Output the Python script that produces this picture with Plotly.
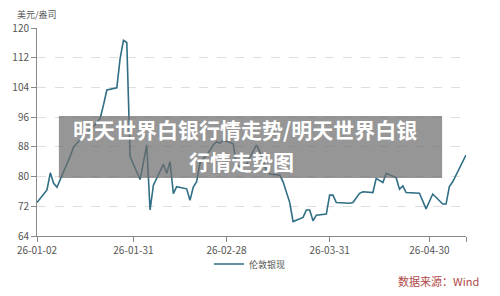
import plotly.graph_objects as go

# ---- data ----
dates = [
    "2026-01-02", "2026-01-05", "2026-01-06", "2026-01-07", "2026-01-08", "2026-01-09",
    "2026-01-12", "2026-01-13", "2026-01-14", "2026-01-15", "2026-01-16", "2026-01-19",
    "2026-01-21", "2026-01-22", "2026-01-23", "2026-01-26", "2026-01-27", "2026-01-28",
    "2026-01-29", "2026-01-30", "2026-02-02", "2026-02-04", "2026-02-05", "2026-02-06",
    "2026-02-09", "2026-02-10", "2026-02-11", "2026-02-12", "2026-02-13", "2026-02-16",
    "2026-02-17", "2026-02-18", "2026-02-19", "2026-02-20", "2026-02-23", "2026-02-24",
    "2026-02-25", "2026-02-26", "2026-02-27", "2026-03-02", "2026-03-03", "2026-03-04",
    "2026-03-05", "2026-03-06", "2026-03-09", "2026-03-10", "2026-03-12", "2026-03-13",
    "2026-03-16", "2026-03-17", "2026-03-19", "2026-03-20", "2026-03-23", "2026-03-24",
    "2026-03-25", "2026-03-26", "2026-03-27", "2026-03-30", "2026-03-31", "2026-04-01",
    "2026-04-02", "2026-04-06", "2026-04-07", "2026-04-09", "2026-04-10", "2026-04-13",
    "2026-04-14", "2026-04-16", "2026-04-17", "2026-04-20", "2026-04-21", "2026-04-22",
    "2026-04-23", "2026-04-27", "2026-04-29", "2026-05-01", "2026-05-04", "2026-05-05",
    "2026-05-06", "2026-05-07", "2026-05-11",
]
silver = [
    73.0, 76.4, 81.0, 78.2, 77.1, 79.1,
    85.5, 88.0, 89.0, 90.0, 91.0, 93.5,
    95.7, 99.3, 103.3, 103.9, 111.8, 116.7,
    116.1, 85.4, 79.2, 88.5, 71.0, 77.7,
    83.3, 80.9, 84.0, 75.4, 77.3, 76.7,
    73.6, 77.2, 78.6, 83.6, 87.0, 88.5,
    89.4, 89.0, 89.8, 88.9, 82.7, 82.7,
    83.1, 83.4, 88.5, 86.7, 81.5, 80.7,
    80.4, 78.6, 73.0, 67.9, 69.0, 71.0,
    71.0, 68.1, 69.6, 69.9, 75.0, 75.0,
    73.0, 72.8, 73.0, 75.5, 75.9, 75.7,
    79.5, 78.4, 80.9, 79.7, 76.6, 77.5,
    75.7, 75.5, 71.3, 75.3, 72.6, 72.6,
    77.3, 78.6, 85.8,
]
series_name = "伦敦银现"
x_tickvals = ["2026-01-02", "2026-01-31", "2026-02-28", "2026-03-31", "2026-04-30", "2026-05-11"]
x_ticktext = ["26-01-02", "26-01-31", "26-02-28", "26-03-31", "26-04-30", ""]
y_tickvals = [64, 72, 80, 88, 96, 104, 112, 120]
y_unit = "美元/盎司"
title_line1 = "明天世界白银行情走势/明天世界白银"
title_line2 = "行情走势图"
source_text = "数据来源：Wind"

# ---- layout geometry ----
W, H = 500, 296
L, R, T, B = 35, 34, 28, 60
PW, PH = W - L - R, H - T - B

def px(x):
    return (x - L) / PW

def py(y):
    return (H - B - y) / PH

FONT = "Noto Sans CJK SC"

fig = go.Figure()
fig.add_trace(go.Scatter(
    x=dates, y=silver, mode="lines", name=series_name,
    line=dict(color="#2f6e84", width=1.6),
))

fig.update_layout(
    width=W, height=H,
    margin=dict(l=L, r=R, t=T, b=B, pad=0),
    paper_bgcolor="white", plot_bgcolor="white",
    font=dict(family=FONT, size=10, color="#555"),
    showlegend=True,
    legend=dict(
        orientation="h", x=px(249), xanchor="center", y=py(264), yanchor="middle",
        font=dict(size=9, color="#555"), itemwidth=30, bgcolor="rgba(0,0,0,0)",
    ),
    xaxis=dict(
        type="date", range=["2026-01-02", "2026-05-11"],
        tickvals=x_tickvals, ticktext=x_ticktext,
        ticks="outside", ticklen=5, tickcolor="#888", tickwidth=1,
        showline=True, linecolor="#888", linewidth=1,
        showgrid=False, zeroline=False,
        tickfont=dict(size=10, color="#555"),
    ),
    yaxis=dict(
        range=[64, 120], tickvals=y_tickvals,
        ticks="outside", ticklen=5, tickcolor="#888", tickwidth=1,
        showline=True, linecolor="#888", linewidth=1,
        showgrid=True, gridcolor="#dedede", griddash="dash", gridwidth=1,
        zeroline=False,
        tickfont=dict(size=10, color="#555"),
    ),
)

# overlay box
fig.add_shape(
    type="rect", xref="paper", yref="paper",
    x0=px(57), x1=px(442), y0=py(178), y1=py(116),
    fillcolor="rgba(110,110,110,0.72)", line=dict(width=0), layer="above",
)

fig.add_annotation(
    xref="paper", yref="paper", x=px(244), y=py(145),
    text="<b>" + title_line1 + "</b>", showarrow=False,
    xanchor="center", yanchor="bottom", align="center", borderpad=0,
    font=dict(family=FONT, size=21, color="white"),
)
fig.add_annotation(
    xref="paper", yref="paper", x=px(240), y=py(145),
    text="<b>" + title_line2 + "</b>", showarrow=False,
    xanchor="center", yanchor="top", align="center", borderpad=0,
    font=dict(family=FONT, size=21, color="white"),
)

fig.add_annotation(
    xref="paper", yref="paper", x=px(13), y=py(14),
    text=y_unit, showarrow=False, xanchor="left", yanchor="middle",
    font=dict(family=FONT, size=9, color="#555"),
)

fig.add_annotation(
    xref="paper", yref="paper", x=px(481), y=py(281),
    text=source_text, showarrow=False, xanchor="right", yanchor="middle",
    font=dict(family=FONT, size=11, color="#b04848"),
)

fig.write_html("out.html")
